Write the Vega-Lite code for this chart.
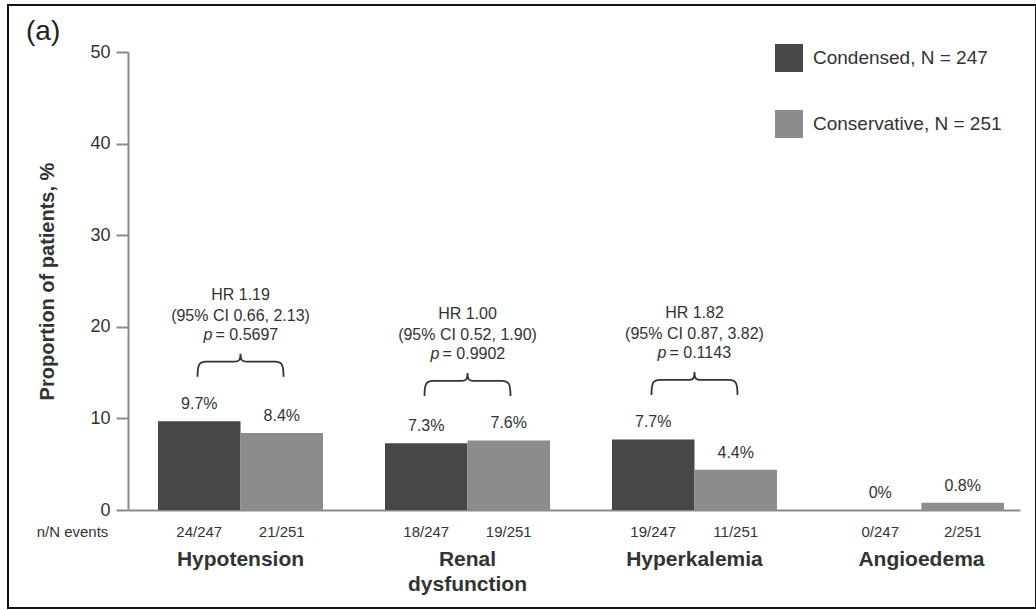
{
  "$schema": "https://vega.github.io/schema/vega-lite/v6.json",
  "width": 1028,
  "height": 603,
  "autosize": {"type": "none"},
  "padding": {"left": 8, "top": 5, "right": 0, "bottom": 2},
  "background": "white",
  "title": {"text": "(a)", "anchor": "start", "frame": "group", "fontSize": 28, "fontWeight": "normal", "color": "#222", "dx": 18, "offset": -41},
  "datasets": {
    "bars": [
      {"category": "Hypotension", "group": "Condensed", "pct": 9.7, "n_events": "24/247"},
      {"category": "Hypotension", "group": "Conservative", "pct": 8.4, "n_events": "21/251"},
      {"category": "Renal dysfunction", "group": "Condensed", "pct": 7.3, "n_events": "18/247"},
      {"category": "Renal dysfunction", "group": "Conservative", "pct": 7.6, "n_events": "19/251"},
      {"category": "Hyperkalemia", "group": "Condensed", "pct": 7.7, "n_events": "19/247"},
      {"category": "Hyperkalemia", "group": "Conservative", "pct": 4.4, "n_events": "11/251"},
      {"category": "Angioedema", "group": "Condensed", "pct": 0, "n_events": "0/247"},
      {"category": "Angioedema", "group": "Conservative", "pct": 0.8, "n_events": "2/251"}
    ],
    "hr": [
      {"category": "Hypotension", "hr": "HR 1.19", "ci": "(95% CI  0.66, 2.13)", "p": "= 0.5697"},
      {"category": "Renal dysfunction", "hr": "HR 1.00", "ci": "(95% CI 0.52, 1.90)", "p": "= 0.9902"},
      {"category": "Hyperkalemia", "hr": "HR 1.82", "ci": "(95% CI 0.87, 3.82)", "p": "= 0.1143"}
    ]
  },
  "data": {"name": "bars"},
  "encoding": {
    "x": {
      "field": "category", "type": "nominal",
      "sort": ["Hypotension", "Renal dysfunction", "Hyperkalemia", "Angioedema"],
      "scale": {"range": [120, 1012], "paddingInner": 0.273, "paddingOuter": 0.1014, "align": 0.652},
      "axis": {
        "title": null, "offset": -98, "domainColor": "#8a8a8a", "domainWidth": 2, "ticks": false,
        "labelAngle": 0, "labelFontSize": 21, "labelFontWeight": "bold", "labelColor": "#333",
        "labelPadding": 38, "labelBaseline": "top", "labelLineHeight": 25, "labelLimit": 0,
        "labelExpr": "datum.value == 'Renal dysfunction' ? ['Renal', 'dysfunction'] : datum.value"
      }
    },
    "y": {
      "field": "pct", "type": "quantitative",
      "scale": {"domain": [0, 50], "range": [505, 47], "nice": false},
      "axis": {
        "title": "Proportion of patients, %", "offset": -120, "values": [0, 10, 20, 30, 40, 50], "grid": false,
        "domainColor": "#8a8a8a", "domainWidth": 2, "tickColor": "#8a8a8a", "tickWidth": 2, "tickSize": 12,
        "labelPadding": 6, "labelFontSize": 18, "labelColor": "#333",
        "titleFontSize": 20, "titleFontWeight": "bold", "titleColor": "#333", "titlePadding": 32
      }
    }
  },
  "layer": [
    {
      "mark": {"type": "bar"},
      "encoding": {
        "xOffset": {"field": "group", "type": "nominal", "sort": ["Condensed", "Conservative"], "scale": {"paddingInner": 0, "paddingOuter": 0}},
        "color": {
          "field": "group", "type": "nominal",
          "scale": {"domain": ["Condensed", "Conservative"], "range": ["#474747", "#8c8c8c"]},
          "legend": {
            "title": null, "orient": "none", "legendX": 767, "legendY": 39,
            "symbolType": "square", "symbolSize": 784, "symbolStrokeWidth": 0, "symbolOpacity": 1,
            "labelFontSize": 19, "labelColor": "#333", "labelOffset": 10, "rowPadding": 38, "padding": 0, "labelLimit": 0,
            "labelExpr": "datum.label == 'Condensed' ? 'Condensed, N = 247' : 'Conservative, N = 251'"
          }
        }
      }
    },
    {
      "transform": [{"calculate": "datum.pct == 0 ? '0%' : format(datum.pct, '.1f') + '%'", "as": "lbl"}],
      "mark": {"type": "text", "fontSize": 16, "color": "#333", "dy": -17, "baseline": "middle"},
      "encoding": {
        "xOffset": {"field": "group", "type": "nominal", "sort": ["Condensed", "Conservative"]},
        "text": {"field": "lbl"}
      }
    },
    {
      "mark": {"type": "text", "fontSize": 15, "color": "#333", "dy": 22, "baseline": "middle"},
      "encoding": {
        "y": {"datum": 0},
        "xOffset": {"field": "group", "type": "nominal", "sort": ["Condensed", "Conservative"]},
        "text": {"field": "n_events"}
      }
    },
    {
      "transform": [{"filter": "datum.category == 'Hypotension' && datum.group == 'Condensed'"}],
      "mark": {"type": "text", "text": "n/N events", "fontSize": 15, "color": "#333", "dx": -168, "dy": 22, "baseline": "middle"},
      "encoding": {"y": {"datum": 0}}
    },
    {
      "transform": [
        {"joinaggregate": [{"op": "max", "field": "pct", "as": "maxpct"}], "groupby": ["category"]},
        {"filter": "datum.group == 'Condensed'"},
        {"lookup": "category", "from": {"data": {"name": "hr"}, "key": "category", "fields": ["hr", "ci", "p"]}},
        {"filter": "isValid(datum.hr)"},
        {"calculate": "datum.maxpct", "as": "pct"}
      ],
      "layer": [
        {"mark": {"type": "text", "fontSize": 16, "color": "#333", "dy": -126, "baseline": "middle"}, "encoding": {"text": {"field": "hr"}}},
        {"mark": {"type": "text", "fontSize": 16, "color": "#333", "dy": -105, "baseline": "middle"}, "encoding": {"text": {"field": "ci"}}},
        {"mark": {"type": "text", "text": "p", "fontSize": 16, "fontStyle": "italic", "color": "#333", "dx": -28, "dy": -86, "align": "right", "baseline": "middle"}},
        {"mark": {"type": "text", "fontSize": 16, "color": "#333", "dx": -25, "dy": -86, "align": "left", "baseline": "middle"}, "encoding": {"text": {"field": "p"}}},
        {"mark": {"type": "point", "shape": "M -1 -1.035 C -1 -1.3 -0.97 -1.384 -0.8 -1.384 L -0.14 -1.384 C -0.03 -1.384 0 -1.42 0 -1.569 C 0 -1.42 0.03 -1.384 0.14 -1.384 L 0.8 -1.384 C 0.97 -1.384 1 -1.3 1 -1.035", "size": 7396, "filled": false, "stroke": "#333", "strokeWidth": 1.8, "opacity": 1}}
      ]
    }
  ],
  "config": {
    "font": "Liberation Sans",
    "view": {"stroke": "#111", "strokeWidth": 2}
  }
}
